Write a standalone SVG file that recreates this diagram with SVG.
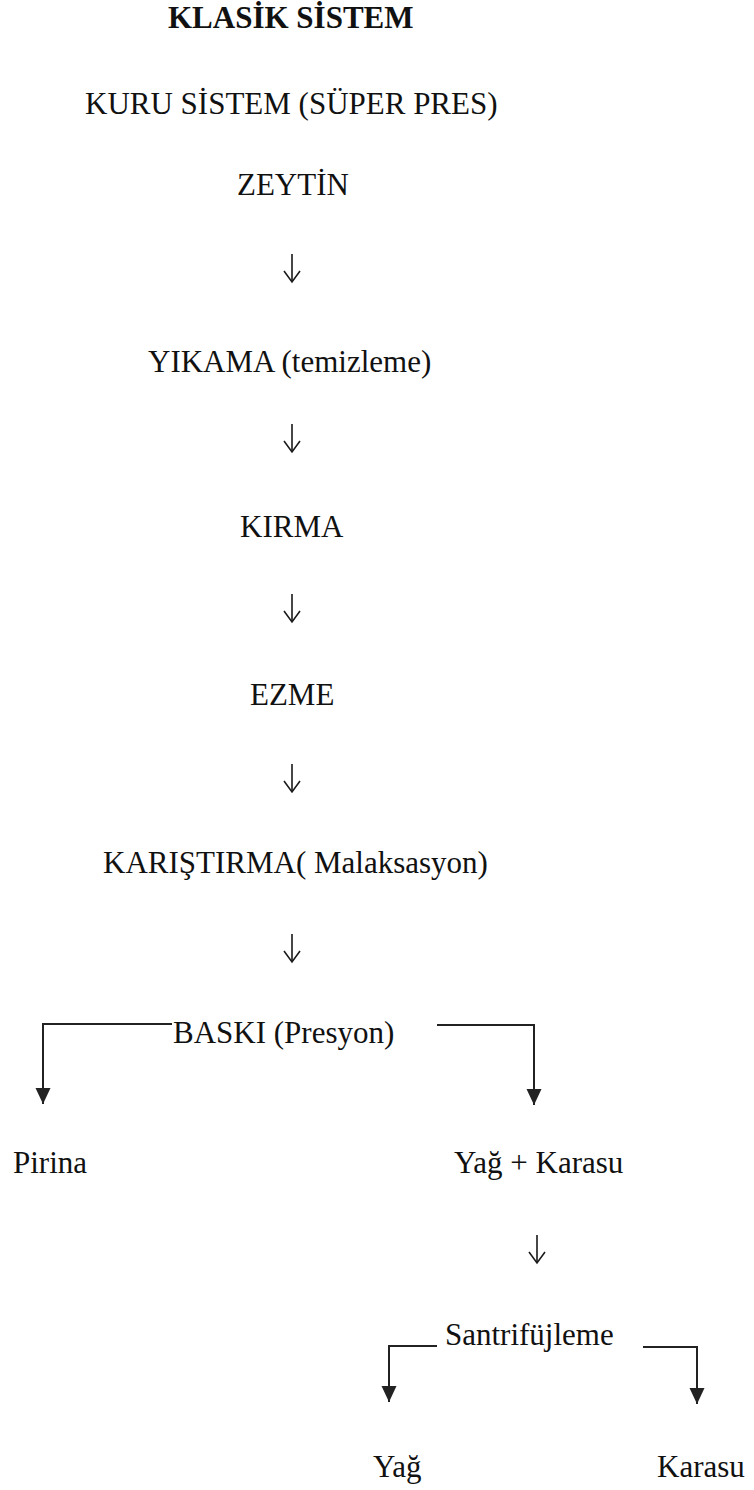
<svg xmlns="http://www.w3.org/2000/svg" width="754" height="1490" viewBox="0 0 754 1490">
<style>
  text { font-family: "Liberation Serif", "Times New Roman", serif; font-size: 31px; fill: #111; }
  .title { font-weight: bold; }
  .flow { stroke: #1a1a1a; stroke-width: 1.6; fill: none; }
  .branch { stroke: #222; stroke-width: 2; fill: none; }
</style>
<defs>
  <marker id="openHead" viewBox="-1 -10 14 20" markerUnits="userSpaceOnUse" markerWidth="14" markerHeight="20" refX="11" refY="0" orient="auto">
    <path d="M0,-8 L11,0 L0,8" fill="none" stroke="#1a1a1a" stroke-width="1.6"/>
  </marker>
  <marker id="solidHead" viewBox="0 -8 17 16" markerUnits="userSpaceOnUse" markerWidth="17" markerHeight="16" refX="16" refY="0" orient="auto">
    <path d="M0,-7.5 L16,0 L0,7.5 z" fill="#222"/>
  </marker>
</defs>
<rect width="754" height="1490" fill="#ffffff"/>

<g id="title"><text class="title" x="168" y="28">KLASİK SİSTEM</text></g>
<g id="subtitle"><text x="85" y="114">KURU SİSTEM (SÜPER PRES)</text></g>
<g id="zeytin"><text x="237" y="195">ZEYTİN</text></g>
<g id="yikama"><text x="148" y="372">YIKAMA (temizleme)</text></g>
<g id="kirma"><text x="240" y="537">KIRMA</text></g>
<g id="ezme"><text x="250" y="705">EZME</text></g>
<g id="karistirma"><text x="103" y="873">KARIŞTIRMA( Malaksasyon)</text></g>
<g id="baski"><text x="173" y="1043">BASKI (Presyon)</text></g>
<g id="pirina"><text x="13" y="1173">Pirina</text></g>
<g id="yag-karasu"><text x="454" y="1173">Yağ + Karasu</text></g>
<g id="santrifujleme"><text x="445" y="1345">Santrifüjleme</text></g>
<g id="yag"><text x="373" y="1477">Yağ</text></g>
<g id="karasu"><text x="657" y="1477">Karasu</text></g>

<g id="connectors">
  <line class="flow" x1="292" y1="254" x2="292" y2="282" marker-end="url(#openHead)"/>
  <line class="flow" x1="292" y1="424" x2="292" y2="452" marker-end="url(#openHead)"/>
  <line class="flow" x1="292" y1="594" x2="292" y2="622" marker-end="url(#openHead)"/>
  <line class="flow" x1="292" y1="764" x2="292" y2="792" marker-end="url(#openHead)"/>
  <line class="flow" x1="292" y1="934" x2="292" y2="962" marker-end="url(#openHead)"/>
  <line class="flow" x1="537" y1="1235" x2="537" y2="1263" marker-end="url(#openHead)"/>

  <path class="branch" d="M172,1024 H43 V1104" marker-end="url(#solidHead)"/>
  <path class="branch" d="M437,1025 H534 V1105" marker-end="url(#solidHead)"/>
  <path class="branch" d="M437,1346 H389 V1402" marker-end="url(#solidHead)"/>
  <path class="branch" d="M643,1347 H697 V1404" marker-end="url(#solidHead)"/>
</g>
</svg>
